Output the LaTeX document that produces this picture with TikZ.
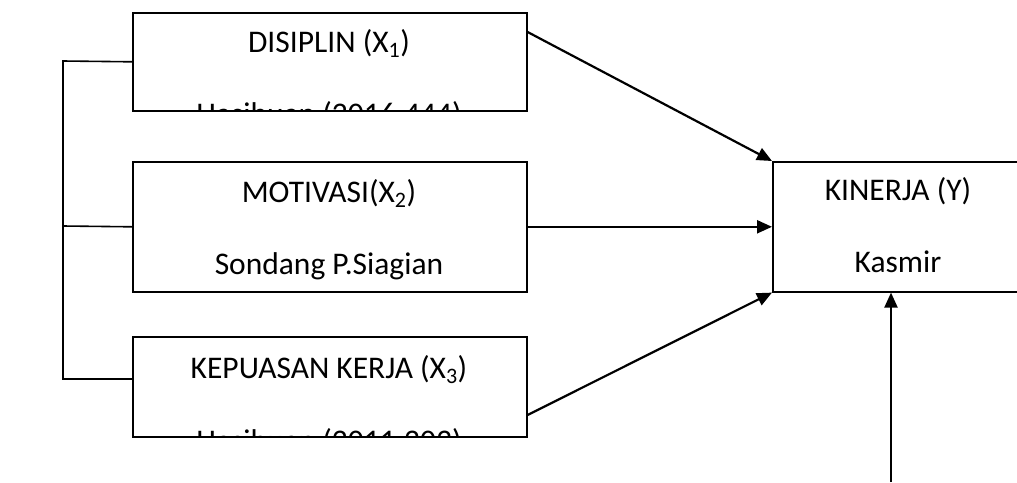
\documentclass[tikz,border=0pt]{standalone}
\usepackage{fontspec}
\setmainfont{Carlito}
\usetikzlibrary{arrows.meta,calc}
\begin{document}
\begin{tikzpicture}[x=1pt,y=-1pt,
  box/.style={draw, line width=1.6pt, inner sep=0pt, anchor=north west},
  lbl/.style={font=\fontsize{31.5}{36}\selectfont, inner sep=0pt, anchor=base},
  con/.style={line width=1.6pt},
  arr/.style={line width=2.2pt, -{Triangle[length=15pt,width=13pt]}}]
\useasboundingbox (0,0) rectangle (1017,482);
\clip (0,0) rectangle (1017,482);
% texts (clipped to their boxes)
\begin{scope}
  \clip (132,12) rectangle (526,110);
  \node[lbl] (t1a) at (329,52) {DISIPLIN (X\textsubscript{1})};
  \node[lbl] (t1b) at (329,124) {Hasibuan (2016:444)};
\end{scope}
\begin{scope}
  \clip (132,161) rectangle (526,291);
  \node[lbl] (t2a) at (329,202) {MOTIVASI(X\textsubscript{2})};
  \node[lbl] (t2b) at (329,274) {Sondang P.Siagian};
\end{scope}
\begin{scope}
  \clip (132,336) rectangle (526,436);
  \node[lbl] (t3a) at (329,378) {KEPUASAN KERJA (X\textsubscript{3})};
  \node[lbl] (t3b) at (329,451) {Hasibuan (2011:203)};
\end{scope}
\node[lbl] (tya) at (898,200) {KINERJA (Y)};
\node[lbl] (tyb) at (898,272) {Kasmir};
% boxes
\node[box, minimum width=394pt, minimum height=98pt] (b1) at (132,12) {};
\node[box, minimum width=394pt, minimum height=130pt] (b2) at (132,161) {};
\node[box, minimum width=394pt, minimum height=100pt] (b3) at (132,336) {};
\node[box, minimum width=252pt, minimum height=130pt] (y) at (772,161) {};
% left bracket
\coordinate (b3w) at ($(b3.north west)+(0,43)$);
\draw[con] (b1.west) -- (63,61) -- (63,379) -- (b3w);
\draw[con] (b2.west) -- (63,226);
% arrows
\draw[arr] ($(b1.north east)+(0,20)$) -- (y.north west);
\draw[arr] (b2.east) -- (y.west);
\draw[arr] ($(b3.north east)+(0,79)$) -- (y.south west);
\coordinate (src) at (891,482);
\draw[arr] (src) -- (y.south -| src);
\end{tikzpicture}
\end{document}
